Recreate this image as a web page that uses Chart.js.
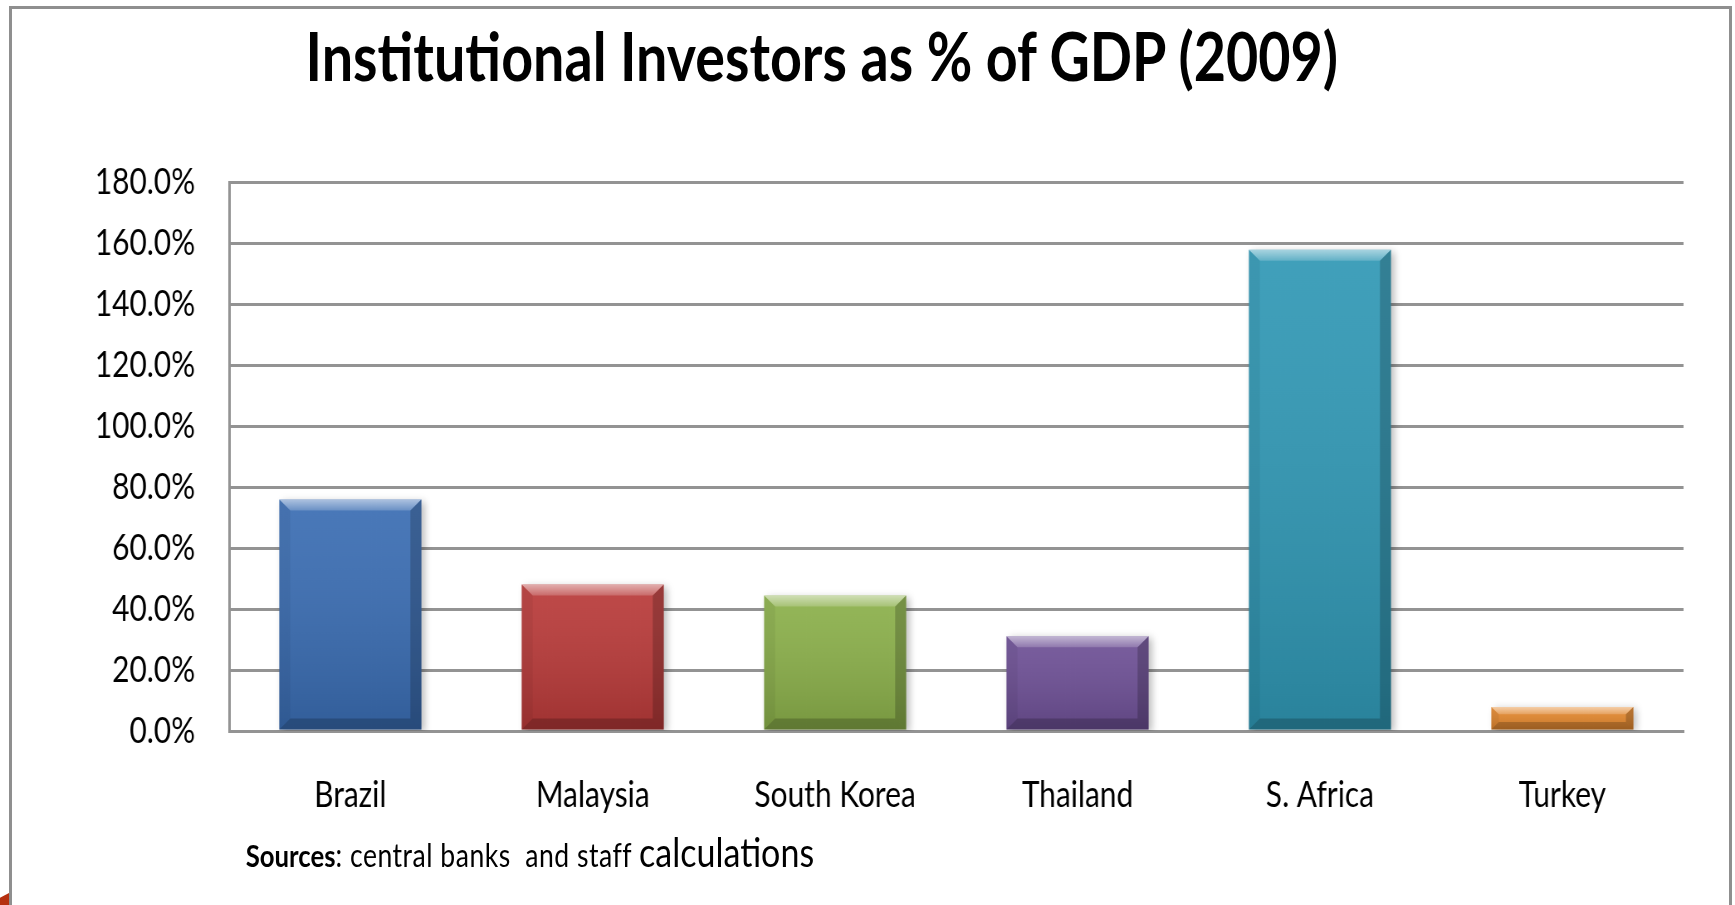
<!DOCTYPE html>
<html>
<head>
<meta charset="utf-8">
<script src="https://cdn.jsdelivr.net/npm/chart.js@4/dist/chart.umd.min.js"></script>
<style>
html,body{margin:0;padding:0;background:#fff;width:1735px;height:905px;overflow:hidden;}
#frame{position:absolute;left:9px;top:6px;width:1723px;height:960px;border:3px solid #8f8f8f;box-sizing:border-box;}
#wrap{position:absolute;left:0;top:0;width:2090px;height:905px;transform:scaleX(0.830144);transform-origin:0 0;}
#c{position:absolute;left:0;top:0;width:2090px;height:905px;}
#title{position:absolute;left:0;width:1980px;top:22px;text-align:center;font-family:Lato,sans-serif;font-weight:700;font-size:67px;line-height:67px;white-space:nowrap;color:#000;}
#src{position:absolute;left:296px;top:831px;font-family:Lato,sans-serif;font-weight:400;font-size:31px;line-height:31px;white-space:pre;color:#000;}
#src b{font-weight:700;}
#src .mid{font-size:32px;letter-spacing:0.6px;}
#src .big{font-size:41px;line-height:41px;}
#corner{position:absolute;left:0;top:893px;width:9px;height:12px;background:#b5300f;clip-path:polygon(0 40%,100% 0,100% 100%,0 100%);}
</style>
</head>
<body>
<div id="frame"></div>
<div id="corner"></div>
<div id="wrap">
  <canvas id="c" width="2090" height="905"></canvas>
  <div id="title">Institutional Investors as % of GDP (2009)</div>
  <div id="src"><b>Sources</b><span class="mid">: central banks  and staff </span><span class="big">calculations</span></div>
</div>
<script>
// ---- data ----
const categories = ['Brazil', 'Malaysia', 'South Korea', 'Thailand', 'S. Africa', 'Turkey'];
const values = [75.9, 48.0, 44.4, 31.1, 157.8, 7.9];
const yMin = 0;
const yMax = 180;
const yStep = 20;

// ---- styles ----
const barColors = ['#3a6db3', '#b93a39', '#8bb04a', '#6e5096', '#3098b5', '#e5892f'];
const SX = 1735 / 2090;
const gridColor = '#939393';

function poly(c, pts, fill) {
  c.beginPath();
  c.moveTo(pts[0][0], pts[0][1]);
  for (let i = 1; i < pts.length; i++) c.lineTo(pts[i][0], pts[i][1]);
  c.closePath();
  c.fillStyle = fill;
  c.fill();
}

const barFx = {
  id: 'barFx',
  beforeDatasetsDraw(chart) {
    const c = chart.ctx;
    c.save();
    c.shadowColor = 'rgba(0,0,0,0.25)';
    c.shadowBlur = 8;
    c.shadowOffsetX = 4;
    c.shadowOffsetY = 2;
  },
  afterDatasetsDraw(chart) {
    const c = chart.ctx;
    c.restore();
    chart.getDatasetMeta(0).data.forEach(bar => {
      const p = bar.getProps(['x', 'y', 'base', 'width'], true);
      const l = p.x - p.width / 2, r = p.x + p.width / 2;
      const t = Math.min(p.y, p.base), b = Math.max(p.y, p.base);
      const h = b - t;
      const bv = Math.min(11, h * 0.33), bh = bv / SX;
      const g = c.createLinearGradient(0, t, 0, b);
      g.addColorStop(0, 'rgba(255,255,255,0.08)');
      g.addColorStop(1, 'rgba(0,0,0,0.14)');
      c.fillStyle = g;
      c.fillRect(l, t, r - l, h);
      const tg = c.createLinearGradient(0, t, 0, t + bv);
      tg.addColorStop(0, 'rgba(255,255,255,0.55)');
      tg.addColorStop(1, 'rgba(255,255,255,0.18)');
      poly(c, [[l, t], [r, t], [r - bh, t + bv], [l + bh, t + bv]], tg);
      poly(c, [[l, b], [r, b], [r - bh, b - bv], [l + bh, b - bv]], 'rgba(0,0,0,0.2)');
      poly(c, [[l, t], [l + bh, t + bv], [l + bh, b - bv], [l, b]], 'rgba(0,0,0,0.05)');
      poly(c, [[r, t], [r - bh, t + bv], [r - bh, b - bv], [r, b]], 'rgba(0,0,0,0.2)');
    });
  }
};

new Chart(document.getElementById('c'), {
  type: 'bar',
  data: {
    labels: categories,
    datasets: [{
      data: values,
      backgroundColor: barColors,
      borderWidth: 0,
      barPercentage: 0.586,
      categoryPercentage: 1
    }]
  },
  options: {
    responsive: false,
    animation: false,
    devicePixelRatio: 1,
    layout: { padding: { left: 0, right: 62, top: 182, bottom: 74 } },
    plugins: { legend: { display: false }, tooltip: { enabled: false }, title: { display: false } },
    scales: {
      x: {
        grid: { display: false, drawTicks: false },
        border: { display: true, color: gridColor, width: 3 },
        ticks: { color: '#000', font: { family: 'Lato', size: 36 }, padding: 43, maxRotation: 0, autoSkip: false },
        afterFit: s => { s.height = 100; }
      },
      y: {
        min: yMin, max: yMax,
        grid: { color: gridColor, lineWidth: 3, drawTicks: false },
        border: { display: true, color: gridColor, width: 3 },
        ticks: { stepSize: yStep, color: '#000', font: { family: 'Lato', size: 36 }, padding: 41,
                 callback: v => Number(v).toFixed(1) + '%' },
        afterFit: s => { s.width = 276; }
      }
    }
  },
  plugins: [barFx]
});
</script>
</body>
</html>
